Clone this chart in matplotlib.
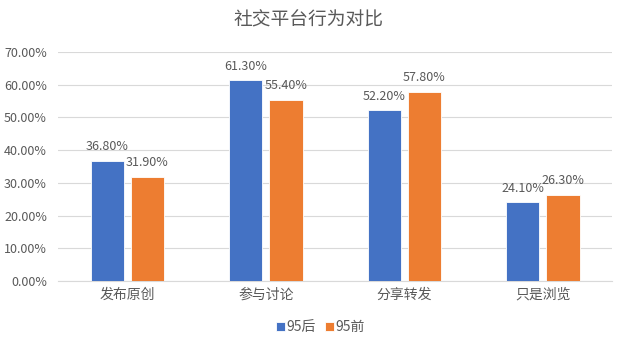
import matplotlib
matplotlib.use("Agg")
import matplotlib.pyplot as plt
import numpy as np
from matplotlib.ticker import FuncFormatter

plt.rcParams['font.family'] = ['Noto Sans CJK SC', 'DejaVu Sans']

title = "社交平台行为对比"
categories = ["发布原创", "参与讨论", "分享转发", "只是浏览"]
series_names = ["95后", "95前"]
after95 = [36.8, 61.3, 52.2, 24.1]
before95 = [31.9, 55.4, 57.8, 26.3]
colors = ["#4472C4", "#ED7D31"]
text_color = "#595959"

fig = plt.figure(figsize=(6.41, 3.48), dpi=100)
ax = fig.add_axes([0.0905, 0.1925, 0.8645, 0.658])

x = np.arange(len(categories))
w = 0.24
off = 0.145
b1 = ax.bar(x - off, after95, w, color=colors[0], edgecolor="white", linewidth=0.6, label=series_names[0], zorder=3)
b2 = ax.bar(x + off, before95, w, color=colors[1], edgecolor="white", linewidth=0.6, label=series_names[1], zorder=3)

for bars, vals in ((b1, after95), (b2, before95)):
    for r, v in zip(bars, vals):
        ax.annotate(f"{v:.2f}%", (r.get_x() + r.get_width() / 2, v), xytext=(0, 5.5),
                    textcoords="offset points", ha="center", va="bottom",
                    fontsize=9, color=text_color)

ax.set_xlim(-0.5, len(categories) - 0.5)
ax.set_ylim(0, 70)
ax.set_yticks(np.arange(0, 71, 10))
ax.yaxis.set_major_formatter(FuncFormatter(lambda v, p: f"{v:.2f}%"))
ax.set_xticks(x)
ax.set_xticklabels(categories, fontsize=10)
ax.tick_params(axis="both", length=0, colors=text_color)
ax.tick_params(axis="y", labelsize=9, pad=8)
ax.tick_params(axis="x", pad=5)
ax.grid(axis="y", color="#D9D9D9", linewidth=0.8, zorder=0)
for s in ("top", "right", "left"):
    ax.spines[s].set_visible(False)
ax.spines["bottom"].set_color("#D9D9D9")
ax.spines["bottom"].set_linewidth(0.8)

fig.text(0.482, 0.943, title, ha="center", va="center", fontsize=13.5, color=text_color)

fig.legend(handles=[b1, b2], labels=series_names, loc="center", bbox_to_anchor=(0.5, 0.06),
           ncol=2, frameon=False, fontsize=10, handlelength=0.6, handleheight=0.6,
           handletextpad=0.12, columnspacing=0.7, labelcolor=text_color)

fig.savefig("out.png", dpi=100)
